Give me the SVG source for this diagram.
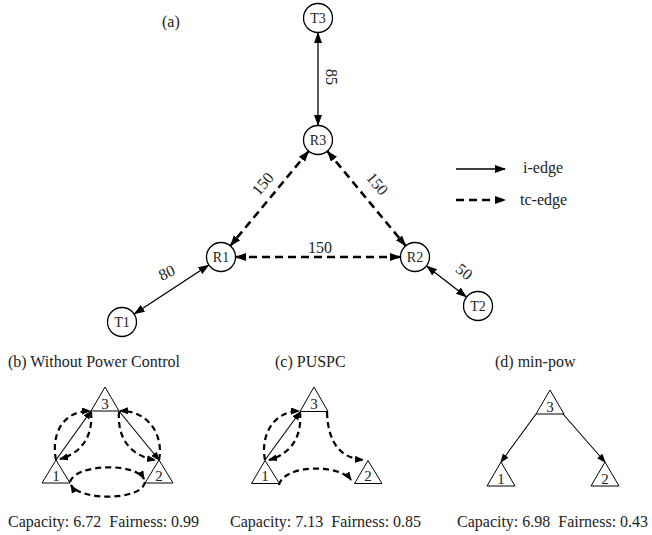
<svg xmlns="http://www.w3.org/2000/svg" width="652" height="535" viewBox="0 0 652 535">
  <style>
    text { font-family: "Liberation Serif", "Times New Roman", serif; fill: #222; }
    .t16 { font-size: 16px; }
    .node circle { fill: #fff; stroke: #000; stroke-width: 1.3; }
    .node text { font-size: 14px; text-anchor: middle; }
    .tri polygon { fill: #fff; stroke: #000; stroke-width: 1; }
    .tri text { font-size: 15px; text-anchor: middle; }
    .solid { fill: none; stroke: #000; stroke-width: 1.3; }
    .dash { fill: none; stroke: #000; stroke-width: 2.6; stroke-dasharray: 8 5; }
    .sm-solid { fill: none; stroke: #000; stroke-width: 1.1; }
    .sm-dash { fill: none; stroke: #000; stroke-width: 2.2; stroke-dasharray: 6 4; }
  </style>
  <defs>
    <marker id="arr" markerUnits="userSpaceOnUse" markerWidth="12" markerHeight="10" refX="10" refY="4" orient="auto-start-reverse">
      <path d="M0,0 L11,4 L0,8 z" fill="#000"/>
    </marker>
    <marker id="arrs" markerUnits="userSpaceOnUse" markerWidth="10" markerHeight="8" refX="8" refY="3.5" orient="auto-start-reverse">
      <path d="M0,0 L9,3.5 L0,7 z" fill="#000"/>
    </marker>
  </defs>

  <!-- (a) topology -->
  <text class="t16" x="162" y="27">(a)</text>

  <g id="edges-a">
    <line class="solid" x1="318" y1="33" x2="318" y2="125" marker-start="url(#arr)" marker-end="url(#arr)"/>
    <line class="dash" x1="308.4" y1="151.5" x2="230.6" y2="245.5" marker-start="url(#arr)" marker-end="url(#arr)"/>
    <line class="dash" x1="327.6" y1="151.5" x2="405.4" y2="245.5" marker-start="url(#arr)" marker-end="url(#arr)"/>
    <line class="dash" x1="236" y1="257" x2="400" y2="257" marker-start="url(#arr)" marker-end="url(#arr)"/>
    <line class="solid" x1="208.5" y1="265.2" x2="134.5" y2="313.8" marker-start="url(#arr)" marker-end="url(#arr)"/>
    <line class="solid" x1="426.8" y1="266.2" x2="466.2" y2="296.8" marker-start="url(#arr)" marker-end="url(#arr)"/>
  </g>

  <g id="edge-labels-a" class="t16">
    <text transform="translate(326,77) rotate(90)" text-anchor="middle" font-size="16">85</text>
    <text transform="translate(263,184) rotate(-50)" text-anchor="middle" dy="5" font-size="16">150</text>
    <text transform="translate(377,184) rotate(50)" text-anchor="middle" dy="5" font-size="16">150</text>
    <text x="320" y="253" text-anchor="middle" font-size="16">150</text>
    <text transform="translate(167,273) rotate(-25)" text-anchor="middle" dy="5" font-size="16">80</text>
    <text transform="translate(464,272) rotate(38)" text-anchor="middle" dy="5" font-size="16">50</text>
  </g>

  <g id="T3" class="node"><circle cx="318" cy="18" r="14.5"/><text x="318" y="23">T3</text></g>
  <g id="R3" class="node"><circle cx="318" cy="140" r="14.5"/><text x="318" y="145">R3</text></g>
  <g id="R1" class="node"><circle cx="221" cy="257" r="14.5"/><text x="221" y="262">R1</text></g>
  <g id="R2" class="node"><circle cx="415" cy="257" r="14.5"/><text x="415" y="262">R2</text></g>
  <g id="T1" class="node"><circle cx="122" cy="322" r="14.5"/><text x="122" y="327">T1</text></g>
  <g id="T2" class="node"><circle cx="478" cy="306" r="14.5"/><text x="478" y="311">T2</text></g>

  <!-- legend -->
  <g id="legend">
    <line class="solid" x1="456" y1="169" x2="505" y2="169" marker-end="url(#arr)"/>
    <text class="t16" x="523" y="173">i-edge</text>
    <line class="dash" x1="456" y1="200" x2="505" y2="200" marker-end="url(#arr)"/>
    <text class="t16" x="520" y="205">tc-edge</text>
  </g>

  <!-- (b) Without Power Control -->
  <text class="t16" x="8" y="367">(b) Without Power Control</text>
  <g id="b-edges">
    <path class="sm-solid" d="M56,460 L91,411" marker-end="url(#arrs)"/>
    <path class="sm-dash" d="M56,460 C51,435 62,411 90,411" marker-end="url(#arrs)"/>
    <path class="sm-dash" d="M91,412 C93,432 85,452 60,459" marker-end="url(#arrs)"/>
    <path class="sm-solid" d="M119,411 L159,460" marker-end="url(#arrs)"/>
    <path class="sm-dash" d="M159,460 C164,435 148,410 120,411" marker-end="url(#arrs)"/>
    <path class="sm-dash" d="M119,412 C117,440 132,456 155,460" marker-end="url(#arrs)"/>
    <path class="sm-dash" d="M70,482 C75,464 135,462 144,479" marker-end="url(#arrs)"/>
    <path class="sm-dash" d="M145,482 C142,501 80,501 71,485" marker-end="url(#arrs)"/>
  </g>
  <g id="b-n3" class="tri"><polygon points="105,387 91,411 119,411"/><text x="105" y="409">3</text></g>
  <g id="b-n1" class="tri"><polygon points="56,460 42,483 70,483"/><text x="56" y="481">1</text></g>
  <g id="b-n2" class="tri"><polygon points="159,460 145,483 173,483"/><text x="159" y="481">2</text></g>
  <text class="t16" x="8" y="527">Capacity: 6.72&#160; Fairness: 0.99</text>

  <!-- (c) PUSPC -->
  <text class="t16" x="275" y="367">(c) PUSPC</text>
  <g id="c-edges">
    <path class="sm-solid" d="M265,460 L300,412" marker-end="url(#arrs)"/>
    <path class="sm-dash" d="M265,460 C260,435 274,411 299,411" marker-end="url(#arrs)"/>
    <path class="sm-dash" d="M300,412 C302,435 293,453 269,460" marker-end="url(#arrs)"/>
    <path class="sm-dash" d="M327,412 C328,445 342,458 363,460" marker-end="url(#arrs)"/>
    <path class="sm-dash" d="M279,485 C284,464 340,464 351,480" marker-end="url(#arrs)"/>
  </g>
  <g id="c-n3" class="tri"><polygon points="314,387 300,411.5 328,411.5"/><text x="314" y="409">3</text></g>
  <g id="c-n1" class="tri"><polygon points="265,460.5 251.5,483.5 279.5,483.5"/><text x="265" y="481">1</text></g>
  <g id="c-n2" class="tri"><polygon points="368,460.5 354.5,483.5 382,483.5"/><text x="368" y="481">2</text></g>
  <text class="t16" x="230" y="527">Capacity: 7.13&#160; Fairness: 0.85</text>

  <!-- (d) min-pow -->
  <text class="t16" x="495" y="367">(d) min-pow</text>
  <g id="d-edges">
    <path class="sm-solid" d="M536,414 L501,462" marker-end="url(#arrs)"/>
    <path class="sm-solid" d="M563,414 L605,462" marker-end="url(#arrs)"/>
  </g>
  <g id="d-n3" class="tri"><polygon points="550,390 536,414 564,414"/><text x="550" y="412">3</text></g>
  <g id="d-n1" class="tri"><polygon points="501,462 487,486 515,486"/><text x="501" y="484">1</text></g>
  <g id="d-n2" class="tri"><polygon points="605,462 591,486 619,486"/><text x="605" y="484">2</text></g>
  <text class="t16" x="457" y="527">Capacity: 6.98&#160; Fairness: 0.43</text>
</svg>
